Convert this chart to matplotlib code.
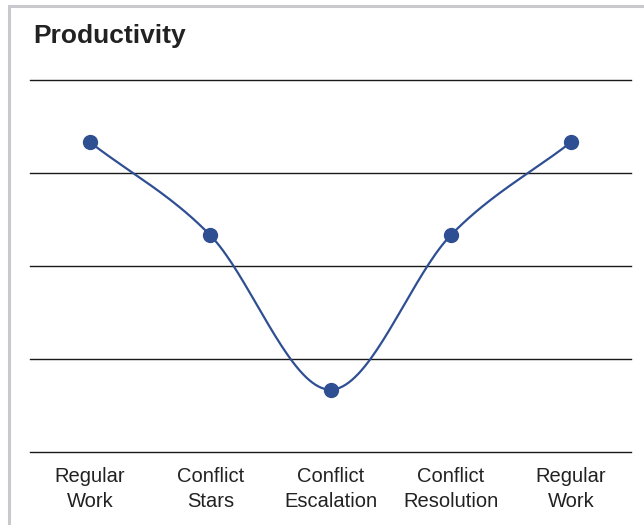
import matplotlib.pyplot as plt
import numpy as np
from matplotlib.patches import Rectangle

plt.rcParams["font.family"] = ["Liberation Sans", "DejaVu Sans"]

stages = ["Regular\nWork", "Conflict\nStars", "Conflict\nEscalation", "Conflict\nResolution", "Regular\nWork"]
productivity = [3.33, 2.33, 0.67, 2.33, 3.33]
grid_levels = [0, 1, 2, 3, 4]


def catmull_rom(x, y, n=40):
    # smooth line through the points (drawing only)
    px = np.concatenate([[2 * x[0] - x[1]], x, [2 * x[-1] - x[-2]]])
    py = np.concatenate([[2 * y[0] - y[1]], y, [2 * y[-1] - y[-2]]])
    xs, ys = [], []
    t = np.linspace(0, 1, n)
    for i in range(1, len(px) - 2):
        for p, out in ((px, xs), (py, ys)):
            p0, p1, p2, p3 = p[i - 1], p[i], p[i + 1], p[i + 2]
            out.extend(0.5 * (2 * p1 + (-p0 + p2) * t + (2 * p0 - 5 * p1 + 4 * p2 - p3) * t**2
                              + (-p0 + 3 * p1 - 3 * p2 + p3) * t**3))
    return np.array(xs), np.array(ys)


fig = plt.figure(figsize=(6.44, 5.25), dpi=100)
fig.patches.append(Rectangle((9 / 644, -0.1), 1.2, (525 - 6) / 525 + 0.1, transform=fig.transFigure,
                             fill=False, edgecolor="#c9c9cd", lw=2.2))
ax = fig.add_axes([30 / 644, 73 / 525, 601 / 644, 372 / 525])

x = np.arange(len(stages), dtype=float)
y = np.array(productivity)
sx, sy = catmull_rom(x, y)

for g in grid_levels:
    ax.axhline(g, color="#1a1a1a", lw=1.0, clip_on=False, zorder=1)
ax.plot(sx, sy, color="#2f4f93", lw=1.6, zorder=2)
ax.plot(x, y, "o", color="#2f4f93", ms=10, zorder=3)

ax.set_xlim(-0.5, 4.5)
ax.set_ylim(0, 4)
ax.set_yticks([])
ax.set_xticks(x)
ax.set_xticklabels(stages, fontsize=14.5, color="#222222", linespacing=1.4)
ax.tick_params(axis="x", length=0, pad=11)
for s in ax.spines.values():
    s.set_visible(False)

fig.text(33 / 644, 1 - 36 / 525, "Productivity", fontsize=19, fontweight="bold",
         color="#222222", va="center", ha="left")

fig.savefig("out.png", dpi=100)
